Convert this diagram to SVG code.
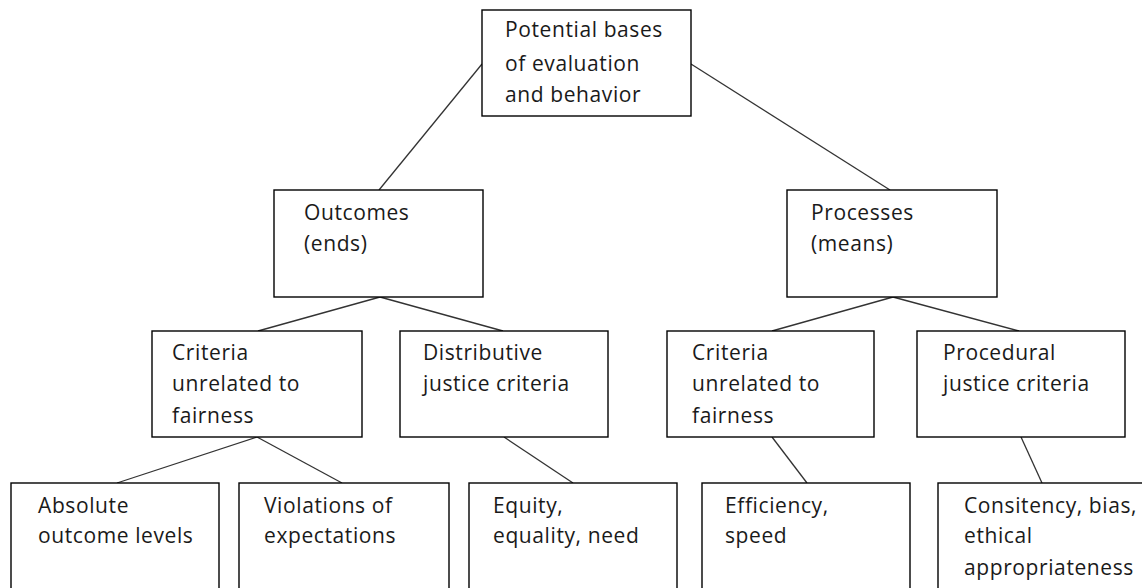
<svg xmlns="http://www.w3.org/2000/svg" width="1142" height="588" viewBox="0 0 1142 588">
<style>
.box{fill:#fff;stroke:#000;stroke-width:1.4}
.lbl{font-family:"Open Sans","Liberation Sans",sans-serif;font-size:21px;letter-spacing:0.6px;fill:#1a1a1a}
.conn line{stroke:#333;stroke-width:1.3}
</style>
<rect width="1142" height="588" fill="#fff"/>
<g id="connectors" class="conn">
<line x1="482" y1="64" x2="379" y2="190"/>
<line x1="691" y1="64" x2="890" y2="190"/>
<line x1="380" y1="297" x2="258" y2="331"/>
<line x1="380" y1="297" x2="503" y2="331"/>
<line x1="893" y1="297" x2="772" y2="331"/>
<line x1="893" y1="297" x2="1019" y2="331"/>
<line x1="257" y1="437" x2="117" y2="483"/>
<line x1="257" y1="437" x2="342" y2="483"/>
<line x1="504" y1="437" x2="573" y2="483"/>
<line x1="772" y1="437" x2="807" y2="483"/>
<line x1="1021" y1="437" x2="1042" y2="483"/>
</g>
<g id="root">
<rect class="box" x="482" y="10" width="209" height="106"/>
<text class="lbl" x="505" y="37">Potential bases</text>
<text class="lbl" x="505" y="71">of evaluation</text>
<text class="lbl" x="505" y="102">and behavior</text>
</g>
<g id="outcomes">
<rect class="box" x="274" y="190" width="209" height="107"/>
<text class="lbl" x="304" y="220">Outcomes</text>
<text class="lbl" x="304" y="251">(ends)</text>
</g>
<g id="processes">
<rect class="box" x="787" y="190" width="210" height="107"/>
<text class="lbl" x="811" y="220">Processes</text>
<text class="lbl" x="811" y="251">(means)</text>
</g>
<g id="criteria-outcomes">
<rect class="box" x="152" y="331" width="210" height="106"/>
<text class="lbl" x="172" y="360">Criteria</text>
<text class="lbl" x="172" y="391">unrelated to</text>
<text class="lbl" x="172" y="423">fairness</text>
</g>
<g id="distributive">
<rect class="box" x="400" y="331" width="208" height="106"/>
<text class="lbl" x="423" y="360">Distributive</text>
<text class="lbl" x="423" y="391">justice criteria</text>
</g>
<g id="criteria-processes">
<rect class="box" x="667" y="331" width="207" height="106"/>
<text class="lbl" x="692" y="360">Criteria</text>
<text class="lbl" x="692" y="391">unrelated to</text>
<text class="lbl" x="692" y="423">fairness</text>
</g>
<g id="procedural">
<rect class="box" x="917" y="331" width="208" height="106"/>
<text class="lbl" x="943" y="360">Procedural</text>
<text class="lbl" x="943" y="391">justice criteria</text>
</g>
<g id="absolute">
<rect class="box" x="11" y="483" width="208" height="120"/>
<text class="lbl" x="38" y="513">Absolute</text>
<text class="lbl" x="38" y="543">outcome levels</text>
</g>
<g id="violations">
<rect class="box" x="239" y="483" width="210" height="120"/>
<text class="lbl" x="264" y="513">Violations of</text>
<text class="lbl" x="264" y="543">expectations</text>
</g>
<g id="equity">
<rect class="box" x="469" y="483" width="208" height="120"/>
<text class="lbl" x="493" y="513">Equity,</text>
<text class="lbl" x="493" y="543">equality, need</text>
</g>
<g id="efficiency">
<rect class="box" x="702" y="483" width="208" height="120"/>
<text class="lbl" x="725" y="513">Efficiency,</text>
<text class="lbl" x="725" y="543">speed</text>
</g>
<g id="consistency">
<rect class="box" x="938" y="483" width="220" height="120"/>
<text class="lbl" x="964" y="513">Consitency, bias,</text>
<text class="lbl" x="964" y="543">ethical</text>
<text class="lbl" x="964" y="575">appropriateness</text>
</g>
</svg>
